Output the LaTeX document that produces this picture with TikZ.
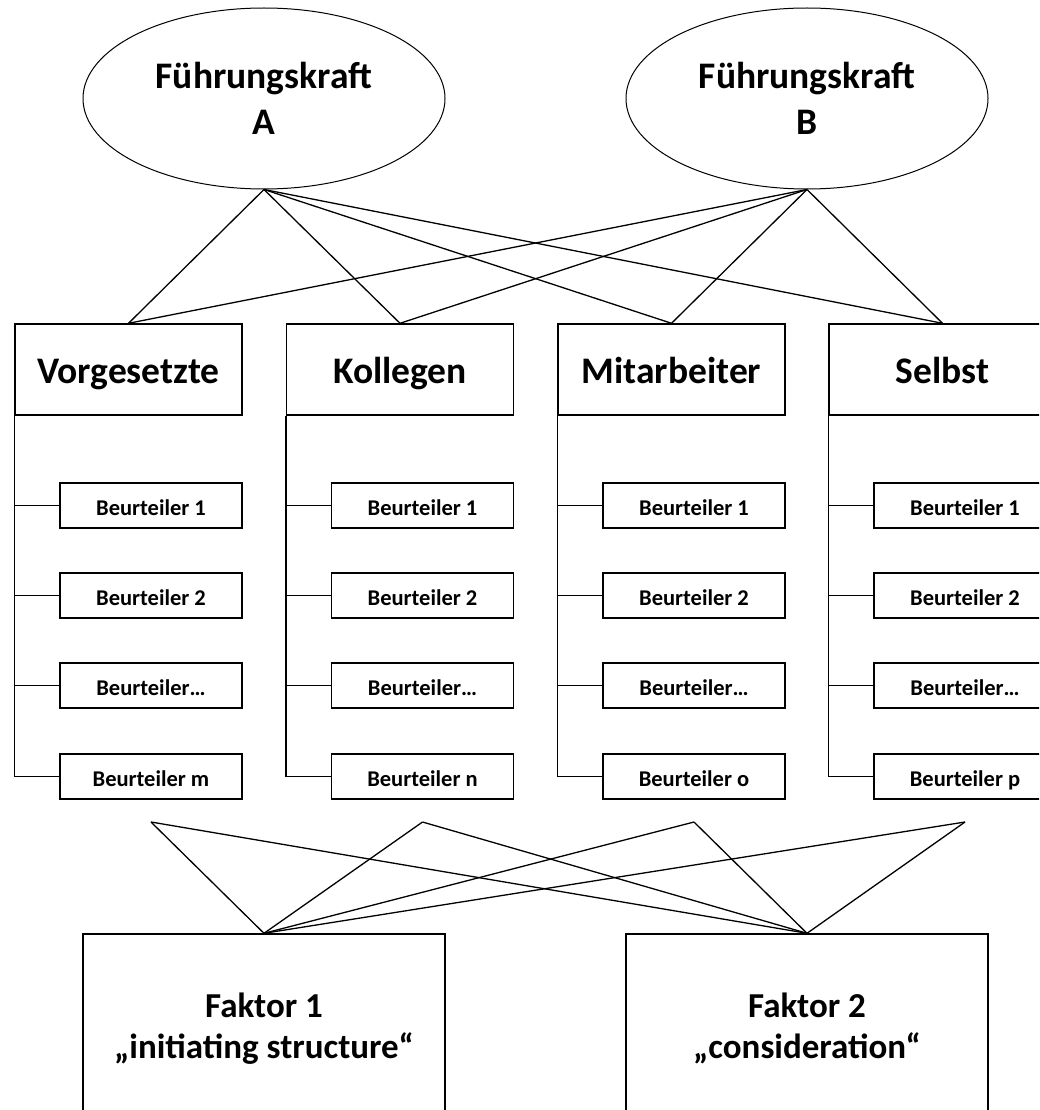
\documentclass[tikz,border=0pt]{standalone}
\usepackage{fontspec}
\setmainfont{Carlito}
\usetikzlibrary{shapes.geometric}
\begin{document}
\begin{tikzpicture}[x=1pt,y=-1pt,
  leader/.style={ellipse, draw, line width=1pt, minimum width=362pt, minimum height=181pt,
    inner sep=0pt, align=center, font=\bfseries\fontsize{37.5}{46}\selectfont},
  group/.style={draw, line width=1.4pt, minimum width=227pt, minimum height=91pt, inner sep=0pt,
    font=\bfseries\fontsize{37.5}{43}\selectfont, text height=30pt, text depth=3pt},
  rater/.style={draw, line width=1.4pt, minimum width=182pt, minimum height=45pt, inner sep=0pt,
    font=\bfseries\fontsize{22.5}{26}\selectfont, text height=19pt, text depth=0pt},
  factor/.style={draw, line width=1.4pt, minimum width=362pt, minimum height=189pt, inner sep=0pt,
    align=center, font=\bfseries\fontsize{35}{41.5}\selectfont},
  link/.style={line width=1.3pt},
  tree/.style={line width=1.4pt},
]
\useasboundingbox (0,0) rectangle (1039,1110);
\clip (0,0) rectangle (1039,1110);

% leaders
\node[leader] (A) at (264,98.5) {Führungskraft\\A};
\node[leader] (B) at (807,98.5) {Führungskraft\\B};

% rater groups with their individual raters
\foreach \n/\x/\title/\last in {V/128.5/Vorgesetzte/m, K/400/Kollegen/n, M/671.5/Mitarbeiter/o, S/942.5/Selbst/p}{
  \node[group] (\n) at (\x,369.5) {\title};
  \node[rater] (\n1) at (\x+22.5,505.5) {Beurteiler 1};
  \node[rater] (\n2) at (\x+22.5,595.5) {Beurteiler 2};
  \node[rater] (\n3) at (\x+22.5,685.5) {Beurteiler…};
  \node[rater] (\n4) at (\x+22.5,776.5) {Beurteiler \last};
  \draw[tree] (\n.south west) |- (\n4.west);
  \foreach \i in {1,2,3}{
    \draw[tree] (\n.south west |- \n\i.west) -- (\n\i.west);
  }
  \coordinate (c\n) at (\x+22.5,822);
}

% factors
\node[factor] (F1) at (264,1028.5) {Faktor 1\\„initiating structure“};
\node[factor] (F2) at (807,1028.5) {Faktor 2\\„consideration“};

% leaders to rater groups
\foreach \l in {A,B}{
  \foreach \n in {V,K,M,S}{
    \draw[link] (\l.south) -- (\n.north);
  }
}

% rater groups to factors
\foreach \n in {V,K,M,S}{
  \draw[link] (c\n) -- (F1.north);
  \draw[link] (c\n) -- (F2.north);
}
\end{tikzpicture}
\end{document}
